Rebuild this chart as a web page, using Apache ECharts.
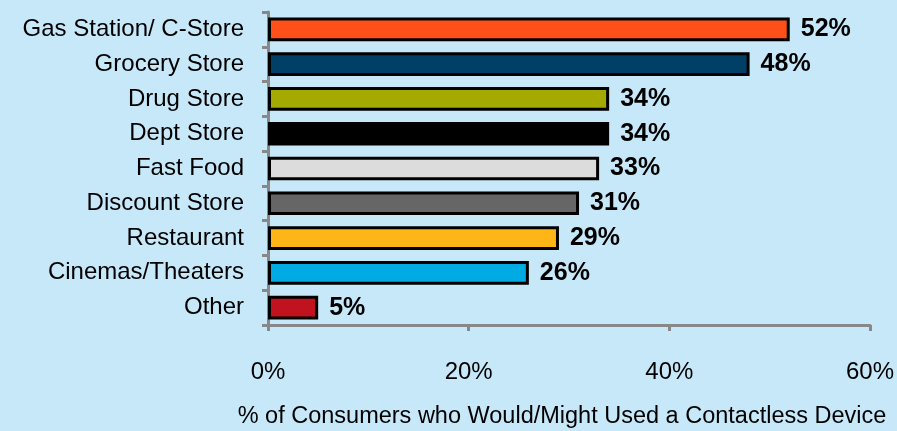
<!DOCTYPE html>
<html><head><meta charset="utf-8">
<script src="https://cdn.jsdelivr.net/npm/echarts@6/dist/echarts.min.js"></script>
<style>html,body{margin:0;padding:0;background:#C6E8F8;}#c{width:897px;height:431px;}</style>
</head><body><div id="c"></div>
<script>
const categories = ["Gas Station/ C-Store","Grocery Store","Drug Store","Dept Store","Fast Food","Discount Store","Restaurant","Cinemas/Theaters","Other"];
const values = [52,48,34,34,33,31,29,26,5];
const barColors = ["#FF5019","#003F66","#A5AA00","#000000","#DCDCDC","#666666","#FFB515","#00AAE2","#C1121F"];
const xTicks = [0,20,40,60];
const xAxisName = "% of Consumers who Would/Might Used a Contactless Device";

const chart = echarts.init(document.getElementById('c'));
chart.setOption({
  backgroundColor: '#C6E8F8',
  animation: false,
  grid: {left: 268, right: 27, top: 12, bottom: 106, containLabel: false, outerBoundsMode: 'none'},
  xAxis: {
    type: 'value', min: xTicks[0], max: xTicks[xTicks.length-1], interval: 20,
    name: xAxisName, nameLocation: 'middle', nameGap: 80,
    nameTextStyle: {fontFamily: 'Liberation Sans', fontSize: 23.5, color: '#000', padding: [0, 14, 0, 0]},
    axisLine: {show: true, lineStyle: {color: '#888', width: 3}},
    axisTick: {show: true, length: 6, lineStyle: {color: '#888', width: 3}},
    splitLine: {show: false},
    axisLabel: {formatter: '{value}%', fontFamily: 'Liberation Sans', fontSize: 24, color: '#000', margin: 35}
  },
  yAxis: {
    type: 'category', data: categories, inverse: true,
    axisLine: {show: true, lineStyle: {color: '#888', width: 3}},
    axisTick: {show: true, length: 6, lineStyle: {color: '#888', width: 3}},
    axisLabel: {fontFamily: 'Liberation Sans', fontSize: 24, color: '#000', margin: 24}
  },
  series: [{
    type: 'bar', barWidth: '68%',
    data: values.map((v,i)=>({value: v, itemStyle: {color: barColors[i]}})),
    itemStyle: {borderColor: '#000', borderWidth: 3},
    label: {show: true, position: 'right', distance: 11, formatter: '{c}%', fontFamily: 'Liberation Sans', fontSize: 25, fontWeight: 'bold', color: '#000'}
  }]
});
</script></body></html>
